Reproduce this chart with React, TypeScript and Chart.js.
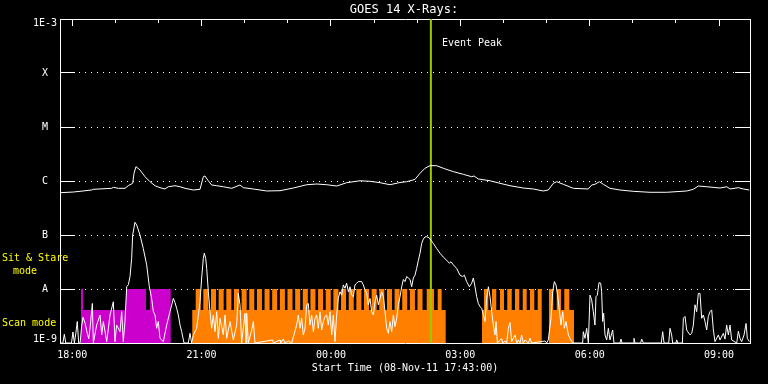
import React, { useEffect, useRef } from "react";
import { Chart, registerables } from "chart.js";

Chart.register(...registerables);

const FONT = "'DejaVu Sans Mono', monospace";

// ---- axes ----
const X_MIN = 0; // minutes after 08-Nov-11 17:43:00
const X_MAX = 960;
const xTickMinutes = [17, 197, 377, 557, 737, 917];
const xTickLabels = ["18:00", "21:00", "00:00", "03:00", "06:00", "09:00"];
const xHourTickMinutes = [17, 77, 137, 197, 257, 317, 377, 437, 497, 557, 617, 677, 737, 797, 857, 917];
const yTickValues = [1e-9, 1e-8, 1e-7, 1e-6, 1e-5, 1e-4, 1e-3];
const yTickLabels = ["1E-9", "A", "B", "C", "M", "X", "1E-3"];

// ---- event ----
const eventPeakMinute = 516;

// ---- GOES long channel (1-8 A) ----
const longT = [0, 18.5, 27.8, 44.1, 46.3, 71.9, 74.2, 81.1, 90.4, 95.0, 101.1, 103.0, 105.7, 111.3, 118.3, 125.2, 132.2, 139.1, 146.1, 150.7, 160, 167, 173.9, 185.5, 194.8, 199.4, 201.7, 206.3, 211.1, 218.0, 227.2, 238.9, 250.4, 255.0, 268.9, 287.6, 306.1, 324.6, 343.2, 357.2, 371.1, 385.0, 398.9, 417.4, 431.3, 445.2, 459.1, 473.0, 482.4, 493.9, 500.9, 507.8, 514.8, 524.1, 533.3, 547.2, 561.1, 572.8, 576.0, 582.0, 598.3, 612.2, 626.1, 644.6, 658.5, 672.4, 679.4, 686.3, 691.1, 700.2, 714.2, 735.0, 739.8, 744.3, 750.3, 755.9, 765.2, 779.1, 797.6, 820.9, 844.1, 871.9, 881.1, 888.1, 899.8, 918.3, 927.6, 932.2, 943.7, 950.7, 959.0];
const longV = [6.07e-7, 6.25e-7, 6.44e-7, 6.81e-7, 7.02e-7, 7.32e-7, 7.64e-7, 7.32e-7, 7.32e-7, 8.18e-7, 9.06e-7, 1.39e-6, 1.84e-6, 1.6e-6, 1.2e-6, 9.7e-7, 8.18e-7, 7.52e-7, 7.11e-7, 7.83e-7, 8.18e-7, 7.83e-7, 7.32e-7, 6.81e-7, 7.02e-7, 1.2e-6, 1.24e-6, 1.01e-6, 8.43e-7, 8.18e-7, 7.83e-7, 7.32e-7, 8.43e-7, 7.52e-7, 7.11e-7, 6.53e-7, 6.61e-7, 7.41e-7, 8.53e-7, 8.79e-7, 8.53e-7, 8.07e-7, 9.31e-7, 1.01e-6, 9.87e-7, 9.31e-7, 8.53e-7, 9.38e-7, 9.7e-7, 1.07e-6, 1.39e-6, 1.72e-6, 1.92e-6, 1.92e-6, 1.72e-6, 1.49e-6, 1.33e-6, 1.2e-6, 1.24e-6, 1.09e-6, 1.01e-6, 9.06e-7, 8.18e-7, 7.41e-7, 7.11e-7, 6.53e-7, 6.81e-7, 9.06e-7, 9.7e-7, 8.69e-7, 7.32e-7, 7.11e-7, 8.43e-7, 8.69e-7, 9.7e-7, 8.69e-7, 7.32e-7, 6.81e-7, 6.44e-7, 6.18e-7, 6.18e-7, 6.53e-7, 7.02e-7, 8.07e-7, 7.83e-7, 7.41e-7, 7.83e-7, 7.11e-7, 7.52e-7, 7.11e-7, 6.81e-7];

// ---- GOES short channel (0.5-4 A) ----
const shortT = [0, 4, 6, 8, 16, 18, 20, 22, 24, 26, 28, 30, 32, 35, 38, 40, 42, 45, 46.4, 51, 55.7, 58, 60.3, 65, 69.6, 74.2, 76.5, 78.8, 83.5, 85.8, 88.1, 90.4, 92.8, 95.1, 97.4, 99.7, 101.1, 104.3, 106.7, 111.3, 115.9, 120.6, 124.3, 127.5, 129.9, 132.2, 134.5, 136.8, 139.1, 143.8, 148.4, 153, 157.7, 160, 162.3, 164.6, 167, 169.3, 172.5, 178.5, 180.9, 183.2, 185.5, 190.1, 192.5, 194.8, 197.1, 199.4, 200.8, 202.7, 204.1, 206.4, 208.7, 211, 213.3, 215.7, 218, 220.3, 222.6, 227.2, 229.6, 231.9, 236.5, 241.2, 245.8, 248.1, 250.4, 252.7, 257.4, 258.8, 259.7, 262, 266.7, 269, 271.3, 295.9, 296.8, 306.1, 307, 310.7, 313, 317.7, 322.3, 329.3, 331.6, 333.9, 336.2, 338.5, 340.9, 343.2, 345.5, 347.8, 350.1, 352.5, 354.8, 357.1, 359.4, 361.7, 364.1, 366.4, 368.7, 371, 373.3, 375.6, 378, 380.3, 382.6, 384.9, 387.2, 389.6, 391.9, 394.2, 396.5, 398.8, 401.2, 403.5, 405.8, 408.1, 410.4, 412.8, 415.1, 419.7, 422, 424.4, 426.7, 429, 431.3, 433.6, 436, 438.3, 440.6, 442.9, 445.2, 447.5, 449.9, 452.2, 454.5, 456.8, 459.1, 461.5, 463.8, 466.1, 468.4, 470.7, 473.1, 475.4, 477.7, 480, 482.3, 484.6, 487, 489.3, 491.6, 493.9, 496.2, 498.6, 500.9, 503.2, 505.5, 507.8, 510.1, 513.4, 517.1, 519.4, 524.1, 528.7, 533.3, 538, 541.7, 544, 547.3, 551.9, 556.5, 560.2, 562.6, 565.8, 569.5, 572.8, 575.1, 577.4, 579.7, 582, 584.4, 586.7, 589, 591.3, 593.6, 596, 598.3, 600.6, 602.9, 605.2, 606.6, 608.5, 614.5, 615.9, 619.1, 621.5, 623.8, 626.1, 628.4, 633.1, 635.4, 637.7, 640, 642.3, 644.6, 647, 651.6, 653.9, 656.2, 674.8, 677.1, 679.4, 683.1, 685.5, 687.8, 690.1, 692.4, 694.7, 697.1, 699.4, 701.7, 704, 707.3, 710.5, 714.2, 727.2, 728.1, 730.4, 732.8, 735.1, 737.4, 739.7, 742, 744.3, 745.7, 747.6, 749.9, 752.2, 753.6, 755, 756.4, 758.3, 760.6, 762.9, 765.2, 768.9, 770.8, 779.1, 780.5, 781.9, 797.7, 798.6, 800, 807.9, 809.3, 811.6, 836.6, 838.5, 840.4, 846.9, 848.7, 851, 852.4, 857, 858, 859.4, 865.9, 867.3, 869.6, 871.9, 876.5, 878.9, 881.2, 883.5, 885.8, 888.1, 890.4, 892.8, 895.1, 897.4, 899.7, 902, 904.4, 906.7, 909, 911.3, 916, 918.3, 922.9, 925.2, 927.5, 929.9, 932.2, 934.5, 941.5, 943.8, 946.1, 948.4, 951.7, 954.5, 956.3, 959.1];
const shortV = [1e-9, 1e-9, 1.45e-9, 1e-9, 1e-9, 1.6e-9, 1e-9, 1.5e-9, 2.5e-9, 1e-9, 1e-9, 2.0e-9, 3.0e-9, 2.3e-9, 1.5e-9, 1.2e-9, 2.0e-9, 5.4e-9, 1e-9, 2.15e-9, 3.3e-9, 1.41e-9, 2.5e-9, 1.06e-9, 3.3e-9, 5.8e-9, 1.06e-9, 2.15e-9, 1.62e-9, 3.8e-9, 1.06e-9, 2.5e-9, 1.1e-8, 1.2e-8, 1.7e-8, 3.7e-8, 1.0e-7, 1.72e-7, 1.53e-7, 1.0e-7, 5.6e-8, 2.8e-8, 1.1e-8, 6.7e-9, 3.8e-9, 3.3e-9, 1.87e-9, 2.5e-9, 1.22e-9, 1.06e-9, 2.15e-9, 3.8e-9, 6.7e-9, 5.6e-9, 4.4e-9, 3.3e-9, 2.15e-9, 1.62e-9, 1e-9, 1e-9, 1.51e-9, 1e-9, 1.41e-9, 1.87e-9, 3.3e-9, 5.8e-9, 1.6e-8, 3.7e-8, 4.6e-8, 3.7e-8, 2.4e-8, 8.9e-9, 3.8e-9, 1.87e-9, 3.3e-9, 1.62e-9, 3.8e-9, 1.22e-9, 2.87e-9, 1.41e-9, 3.3e-9, 1.22e-9, 2.5e-9, 1.14e-9, 2.15e-9, 8.3e-9, 5.1e-9, 1e-9, 3.55e-9, 1e-9, 3.55e-9, 1e-9, 1.74e-9, 2.5e-9, 1e-9, 1.14e-9, 1e-9, 1.14e-9, 1e-9, 1.18e-9, 1e-9, 1.09e-9, 1e-9, 2.15e-9, 3.3e-9, 1.87e-9, 2.87e-9, 1.41e-9, 1.87e-9, 5.1e-9, 5.4e-9, 2.15e-9, 3.3e-9, 1.62e-9, 2.87e-9, 3.3e-9, 1.87e-9, 3.8e-9, 1.74e-9, 2.5e-9, 3.1e-9, 3.3e-9, 2.15e-9, 3.8e-9, 1.41e-9, 3.3e-9, 1.06e-9, 3.3e-9, 6.7e-9, 8.9e-9, 7.7e-9, 1.19e-8, 1.03e-8, 1.28e-8, 8.9e-9, 1.1e-8, 7.7e-9, 7.2e-9, 1.19e-8, 1.28e-8, 1.37e-8, 1.37e-8, 1.19e-8, 9.6e-9, 8.3e-9, 5.1e-9, 6.7e-9, 3.8e-9, 3.3e-9, 5.8e-9, 7.7e-9, 5.1e-9, 6.7e-9, 8.9e-9, 7.2e-9, 3.8e-9, 1.87e-9, 1.51e-9, 2.5e-9, 1.62e-9, 3.3e-9, 2.0e-9, 2.87e-9, 5.1e-9, 7.2e-9, 1.1e-8, 1.5e-8, 1.37e-8, 1.7e-8, 1.6e-8, 1.5e-8, 1.1e-8, 1.6e-8, 1.8e-8, 2.4e-8, 3.4e-8, 4.6e-8, 7.0e-8, 8.4e-8, 9.2e-8, 9.3e-8, 8.9e-8, 7.7e-8, 7.0e-8, 5.6e-8, 4.6e-8, 3.9e-8, 3.4e-8, 3.0e-8, 3.2e-8, 2.8e-8, 2.4e-8, 1.8e-8, 1.7e-8, 1.8e-8, 1.37e-8, 1.1e-8, 1.28e-8, 1.6e-8, 1.1e-8, 7.2e-9, 5.4e-9, 4.7e-9, 4.4e-9, 3.3e-9, 2.5e-9, 6.7e-9, 1.1e-8, 7.2e-9, 3.8e-9, 2.15e-9, 1.41e-9, 2.5e-9, 1e-9, 1.22e-9, 1e-9, 1.09e-9, 1e-9, 1.87e-9, 2.4e-9, 1.06e-9, 1.41e-9, 1e-9, 1.14e-9, 1e-9, 1.41e-9, 1e-9, 1.14e-9, 1e-9, 1.22e-9, 1e-9, 1.09e-9, 1e-9, 1.14e-9, 2.87e-9, 8.9e-9, 1.37e-8, 1.19e-8, 7.7e-9, 4.1e-9, 2.15e-9, 3.8e-9, 1.87e-9, 2.5e-9, 1.41e-9, 1.14e-9, 1e-9, 1e-9, 1.62e-9, 1.22e-9, 1.87e-9, 1e-9, 7.7e-9, 6.3e-9, 3.8e-9, 2.15e-9, 7.2e-9, 7.7e-9, 1.31e-8, 1.28e-8, 8.9e-9, 2.5e-9, 3.55e-9, 1.41e-9, 1.14e-9, 1.87e-9, 1.14e-9, 1.74e-9, 1e-9, 1e-9, 1.18e-9, 1e-9, 1e-9, 1.22e-9, 1e-9, 1e-9, 1.18e-9, 1e-9, 1e-9, 1.62e-9, 1e-9, 1e-9, 1.87e-9, 1.41e-9, 1e-9, 1e-9, 1.14e-9, 1e-9, 1e-9, 2.87e-9, 3.1e-9, 1.74e-9, 1.41e-9, 1.51e-9, 2.15e-9, 5.1e-9, 3.8e-9, 8.3e-9, 8.3e-9, 2.87e-9, 3.3e-9, 2.5e-9, 1.74e-9, 3.1e-9, 3.8e-9, 4.1e-9, 1.74e-9, 1.06e-9, 1.41e-9, 1.14e-9, 1.51e-9, 1.18e-9, 2.15e-9, 1.41e-9, 2.15e-9, 1.14e-9, 1e-9, 1.65e-9, 1.22e-9, 1.06e-9, 1.41e-9, 2.3e-9, 1.22e-9, 1.06e-9];

// ---- observing modes (0 = none, 1 = scan, 2 = sit & stare) ----
const modeLevels = [1e-9, 4.1e-9, 1e-8];
const magentaModeT = [0, 29.2, 32, 91.8, 119.7, 125.2, 154, 960];
const magentaModeCode = [0, 2, 1, 2, 1, 2, 0, 0];
const orangeModeT = [0, 184, 188.8, 195.8, 199.4, 206.4, 210.1, 217.1, 220.7, 227.7, 231.4, 238.4, 242.0, 249.0, 252.7, 259.7, 263.3, 270.3, 274.0, 281.0, 284.6, 291.6, 295.2, 302.2, 305.9, 312.9, 316.5, 323.5, 327.2, 334.2, 337.8, 344.8, 348.4, 355.4, 359.1, 366.1, 369.7, 376.7, 380.4, 387.4, 391.0, 398.0, 401.7, 408.7, 412.3, 419.3, 422.9, 429.9, 433.6, 440.6, 444.2, 451.2, 454.9, 461.9, 465.5, 472.5, 476.1, 483.1, 486.8, 493.8, 497.4, 504.4, 510.2, 520.4, 525.5, 531.0, 536.6, 587.1, 589.9, 595.9, 601.0, 607.0, 612.2, 617.7, 622.3, 628.5, 633.0, 639.0, 643.8, 649.3, 653.9, 659.9, 664.6, 670.2, 680.3, 686.3, 691.1, 697.0, 701.6, 708.6, 715.1, 960];
const orangeModeCode = [0, 1, 2, 1, 2, 1, 2, 1, 2, 1, 2, 1, 2, 1, 2, 1, 2, 1, 2, 1, 2, 1, 2, 1, 2, 1, 2, 1, 2, 1, 2, 1, 2, 1, 2, 1, 2, 1, 2, 1, 2, 1, 2, 1, 2, 1, 2, 1, 2, 1, 2, 1, 2, 1, 2, 1, 2, 1, 2, 1, 2, 1, 2, 1, 2, 1, 0, 1, 2, 1, 2, 1, 2, 1, 2, 1, 2, 1, 2, 1, 2, 1, 2, 0, 2, 1, 2, 1, 2, 1, 0, 0];

const pts = (t: number[], v: number[]) => t.map((x, i) => ({ x, y: v[i] }));
const modePts = (t: number[], c: number[]) => t.map((x, i) => ({ x, y: modeLevels[c[i]] }));

const textPlugin = {
  id: "goesText",
  afterDraw(chart: any) {
    const ctx = chart.ctx;
    ctx.save();
    ctx.textBaseline = "middle";
    ctx.fillStyle = "#ffffff";
    ctx.font = `12px ${FONT}`;
    ctx.textAlign = "center";
    ctx.fillText("GOES 14 X-Rays:", 404, 10);
    ctx.font = `10px ${FONT}`;
    ctx.textAlign = "left";
    const xs = chart.scales.x;
    ctx.fillText("Event Peak", xs.getPixelForValue(eventPeakMinute) + 11, 43);
    ctx.fillStyle = "#ffff00";
    ctx.fillText("Sit & Stare", 2, 258);
    ctx.fillText("mode", 13, 271);
    ctx.fillText("Scan mode", 2, 323);
    ctx.restore();
  },
};

export default function App() {
  const ref = useRef<HTMLCanvasElement>(null);
  useEffect(() => {
    const canvas = ref.current!;
    const yTicks = (s: any) => {
      s.ticks = yTickValues.map((value) => ({ value }));
    };
    const chart = new Chart(canvas, {
      type: "line",
      data: {
        datasets: [
          {
            label: "short",
            data: pts(shortT, shortV),
            borderColor: "#ffffff",
            borderWidth: 1,
            pointRadius: 0,
            fill: false,
          },
          {
            label: "long",
            data: pts(longT, longV),
            borderColor: "#ffffff",
            borderWidth: 1,
            pointRadius: 0,
            fill: false,
          },
          {
            label: "peak",
            data: [
              { x: eventPeakMinute, y: 1e-9 },
              { x: eventPeakMinute, y: 1e-3 },
            ],
            borderColor: "#99cc00",
            borderWidth: 2,
            pointRadius: 0,
            fill: false,
          },
          {
            label: "orange",
            data: modePts(orangeModeT, orangeModeCode),
            borderWidth: 0,
            borderColor: "rgba(0,0,0,0)",
            backgroundColor: "#ff8000",
            pointRadius: 0,
            stepped: true,
            fill: "start",
          },
          {
            label: "magenta",
            data: modePts(magentaModeT, magentaModeCode),
            borderWidth: 0,
            borderColor: "rgba(0,0,0,0)",
            backgroundColor: "#cc00cc",
            pointRadius: 0,
            stepped: true,
            fill: "start",
          },
        ],
      } as any,
      options: {
        animation: false,
        responsive: false,
        devicePixelRatio: 1,
        events: [],
        layout: { padding: 0 },
        plugins: { legend: { display: false }, tooltip: { enabled: false }, title: { display: false } },
        scales: {
          x: {
            type: "linear",
            position: "bottom",
            min: X_MIN,
            max: X_MAX,
            afterBuildTicks: (s: any) => {
              s.ticks = xTickMinutes.map((value) => ({ value }));
            },
            afterFit: (s: any) => {
              s.height = 41;
              s.paddingLeft = 0;
              s.paddingRight = 0;
            },
            ticks: {
              color: "#ffffff",
              font: { family: FONT, size: 10 },
              padding: 6,
              maxRotation: 0,
              autoSkip: false,
              callback: (_v: any, i: number) => xTickLabels[i],
            },
            grid: { display: false, drawTicks: false },
            border: { display: true, color: "#ffffff", width: 1 },
            title: {
              display: true,
              text: "Start Time (08-Nov-11 17:43:00)",
              color: "#ffffff",
              font: { family: FONT, size: 10 },
              padding: { top: 0, bottom: 10 },
            },
          },
          xTop: {
            type: "linear",
            position: "top",
            min: X_MIN,
            max: X_MAX,
            afterBuildTicks: (s: any) => {
              s.ticks = xHourTickMinutes.map((value) => ({ value }));
            },
            afterFit: (s: any) => {
              s.height = 19;
              s.paddingLeft = 0;
              s.paddingRight = 0;
            },
            ticks: { display: false },
            grid: {
              display: true,
              drawOnChartArea: false,
              drawTicks: true,
              tickLength: -7,
              tickColor: "#ffffff",
              tickWidth: 1,
              tickBorderDash: (ctx: any) =>
                ctx.tick && xTickMinutes.includes(ctx.tick.value) ? [] : [0, 3, 4, 100],
            },
            border: { display: true, color: "#ffffff", width: 1 },
          },
          y: {
            type: "logarithmic",
            position: "left",
            min: 1e-9,
            max: 1e-3,
            afterBuildTicks: yTicks,
            afterFit: (s: any) => {
              s.width = 60;
              s.paddingTop = 0;
              s.paddingBottom = 0;
            },
            ticks: {
              color: "#ffffff",
              font: { family: FONT, size: 10, lineHeight: 0.8 },
              padding: 18,
              crossAlign: "center",
              autoSkip: false,
              callback: (_v: any, i: number) =>
                i === 0 ? [yTickLabels[i], ""] : i === yTickLabels.length - 1 ? ["", yTickLabels[i]] : yTickLabels[i],
            },
            grid: {
              display: true,
              drawOnChartArea: true,
              color: "#ffffff",
              lineWidth: 1,
              drawTicks: true,
              tickLength: -15,
              tickColor: "#ffffff",
              tickWidth: 1,
            },
            border: { display: true, color: "#ffffff", width: 1, dash: [1, 5] },
          },
          yRight: {
            type: "logarithmic",
            position: "right",
            min: 1e-9,
            max: 1e-3,
            afterBuildTicks: yTicks,
            afterFit: (s: any) => {
              s.width = 18;
              s.paddingTop = 0;
              s.paddingBottom = 0;
            },
            ticks: { display: false },
            grid: {
              display: true,
              drawOnChartArea: false,
              drawTicks: true,
              tickLength: -15,
              tickColor: "#ffffff",
              tickWidth: 1,
            },
            border: { display: true, color: "#ffffff", width: 1 },
          },
        },
      } as any,
      plugins: [textPlugin],
    });
    return () => chart.destroy();
  }, []);

  return (
    <div style={{ position: "fixed", left: 0, top: 0, width: 768, height: 384, background: "#000000" }}>
      <canvas ref={ref} width={768} height={384} style={{ display: "block", width: 768, height: 384 }} />
    </div>
  );
}
